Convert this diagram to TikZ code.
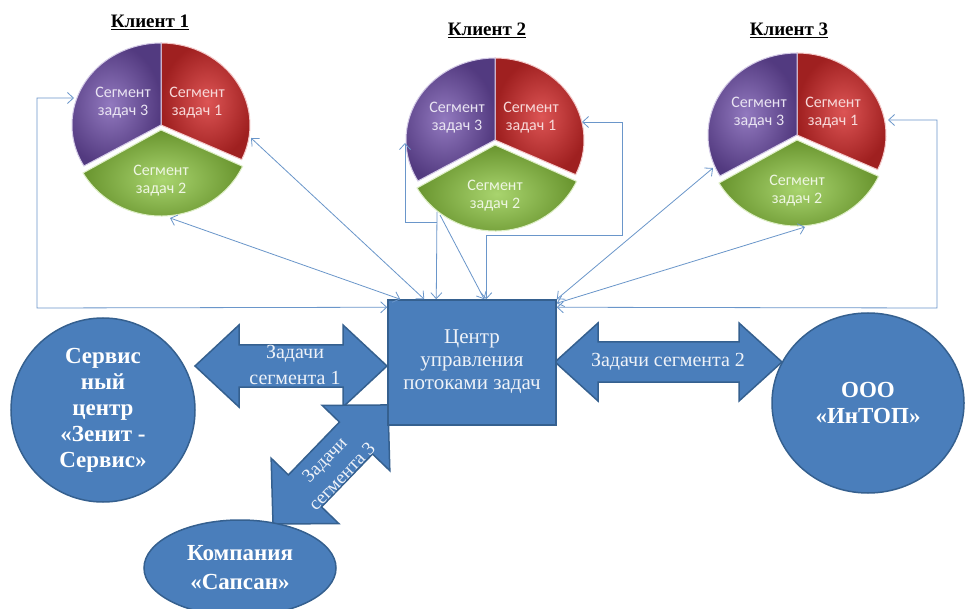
\documentclass[tikz,border=0pt]{standalone}
\usepackage{fontspec}
\setmainfont{Liberation Serif}
\newfontfamily\piefont{Carlito}
\usetikzlibrary{arrows.meta,shapes.geometric}
\definecolor{blk}{HTML}{4A7EBB}
\definecolor{blkb}{HTML}{35608F}
\definecolor{conn}{HTML}{6A96CA}
\definecolor{pr}{HTML}{D42A2A}
\definecolor{pp}{HTML}{6E4DAA}
\definecolor{pg}{HTML}{8CC63E}
\definecolor{ltxt}{HTML}{EEF2F8}
\tikzset{
  blockshape/.style={fill=blk, draw=blkb, line width=1.5pt},
  barrow/.style={fill=blk, draw=blkb, line width=1.5pt, line join=miter},
  onblue/.style={text=ltxt, align=center, inner sep=0pt, font=\fontsize{20}{25}\selectfont},
  boldblue/.style={blockshape, text=white, align=center, inner sep=0pt, font=\bfseries\fontsize{23}{26}\selectfont},
  pietxt/.style={align=center, inner sep=0pt, font=\piefont\fontsize{16}{18}\selectfont},
  ttl/.style={font=\bfseries\fontsize{19}{22}\selectfont, inner sep=0pt},
  tipb/.tip={Straight Barb[length=6pt,width=11pt]},
  conn/.style={draw=conn, line width=0.8pt},
  conn2/.style={conn, tipb-tipb},
  connE/.style={conn, -tipb},
  connS/.style={conn, tipb-},
}
\newcommand\drawpie[3]{%
 \begin{scope}[shift={(#1,#2)}]
  \shadedraw[inner color=pr!80!white, outer color=pr!75!black, draw=white!75!pr, line width=1pt]
    (0,0) -- (90:89 and 82) arc[start angle=90,end angle=-25,x radius=89,y radius=82] -- cycle;
  \shadedraw[inner color=pp!75!white, outer color=pp!75!black, draw=white!70!pp, line width=1pt]
    (0,0) -- (210:89 and 82) arc[start angle=210,end angle=90,x radius=89,y radius=82] -- cycle;
  \begin{scope}[shift={(0,-5)}]
  \shadedraw[inner color=pg!75!white, outer color=pg!75!black, draw=white!70!pg, line width=1pt]
    (0,0) -- (-25:90 and 86) arc[start angle=-25,end angle=-150,x radius=90,y radius=86] -- cycle;
  \end{scope}
  \node[pietxt, text=white!82!pr] (#3r) at (36,22) {Сегмент\\задач 1};
  \node[pietxt, text=white!85!pp] (#3p) at (-38,22) {Сегмент\\задач 3};
  \node[pietxt, text=white!85!pg] (#3g) at (0,-56) {Сегмент\\задач 2};
 \end{scope}}
\newcommand\dblarrow[7]{%
 \begin{scope}[shift={(#1,#2)},rotate=#3]
  \filldraw[barrow] (0,0) -- (#5,#6) -- (#5,#7) -- ({#4-#5},#7) -- ({#4-#5},#6) -- (#4,0)
    -- ({#4-#5},-#6) -- ({#4-#5},-#7) -- (#5,-#7) -- (#5,-#6) -- cycle;
 \end{scope}}
\begin{document}
\begin{tikzpicture}[x=1pt,y=1pt]
\useasboundingbox (0,0) rectangle (965,608);
\fill[white] (0,0) rectangle (965,608);

% titles
\node[ttl] (t1) at (150,586) {\underline{Клиент 1}};
\node[ttl] (t2) at (487,578) {\underline{Клиент 2}};
\node[ttl] (t3) at (789,578) {\underline{Клиент 3}};

% pies
\drawpie{161}{483}{pa}
\drawpie{495}{468}{pb}
\drawpie{797}{473}{pc}

% block arrows
\dblarrow{195}{242}{0}{192}{44}{41}{21}
\dblarrow{555}{246}{0}{227}{43}{39}{20}
\dblarrow{273}{84}{46}{165.5}{46}{47}{23}

% main nodes
\node[blockshape, minimum width=168pt, minimum height=125pt, inner sep=0pt] (box) at (472,245.5) {};
\node[onblue, font=\fontsize{21}{23}\selectfont] (boxt) at (472,246) {Центр\\управления\\потоками задач};
\node[boldblue, circle, minimum size=184pt] (zenit) at (103,198) {Сервис\\ный\\центр\\«Зенит -\\Сервис»};
\node[boldblue, ellipse, minimum width=192pt, minimum height=180pt] (intop) at (868,205) {ООО\\«ИнТОП»};
\node[boldblue, ellipse, minimum width=192pt, minimum height=96pt, font=\bfseries\fontsize{23}{29}\selectfont] (sapsan) at (240,40) {Компания\\«Сапсан»};

% arrow labels
\node[onblue, font=\fontsize{20}{26}\selectfont] (a1) at (295,243) {Задачи\\сегмента 1};
\node[onblue] (a2) at (668,246) {Задачи сегмента 2};
\node[onblue, rotate=46, font=\fontsize{19}{24}\selectfont] (a3) at (333,140) {Задачи\\сегмента 3};

% connector end points
\coordinate (p1pu) at (74,510);
\coordinate (p1rd) at (251,470);
\coordinate (p1gr) at (170,390);
\coordinate (p2pu) at (405,465);
\coordinate (p2g1) at (437,396);
\coordinate (p2g2) at (440,393);
\coordinate (p2rd) at (582,486);
\coordinate (p3pu) at (713,440);
\coordinate (p3gr) at (805,381);
\coordinate (p3rd) at (888,488);
\coordinate (k1) at (37,300);
\coordinate (k4) at (437,386);
\coordinate (k6) at (622,373);
\coordinate (k9) at (937,300);

% connectors
\draw[conn2] (p1pu) -| (k1) -- ([yshift=-8pt]box.north west);
\draw[conn2] (p1rd) -- ([xshift=37pt]box.north west);
\draw[conn2] (p1gr) -- ([xshift=13pt]box.north west);
\draw[connS] (p2pu) |- (k4);
\draw[connE] (p2g1) -- ([xshift=49pt]box.north west);
\draw[connE] (p2g2) -- ([xshift=97pt]box.north west);
\draw[conn2] (p2rd) -| (k6) -| ([xshift=99pt]box.north west);
\draw[conn2] (p3pu) -- (box.north east);
\draw[conn2] (p3gr) -- ([yshift=-4pt]box.north east);
\draw[conn2] (p3rd) -| (k9) -- ([yshift=-8pt]box.north east);
\end{tikzpicture}
\end{document}
